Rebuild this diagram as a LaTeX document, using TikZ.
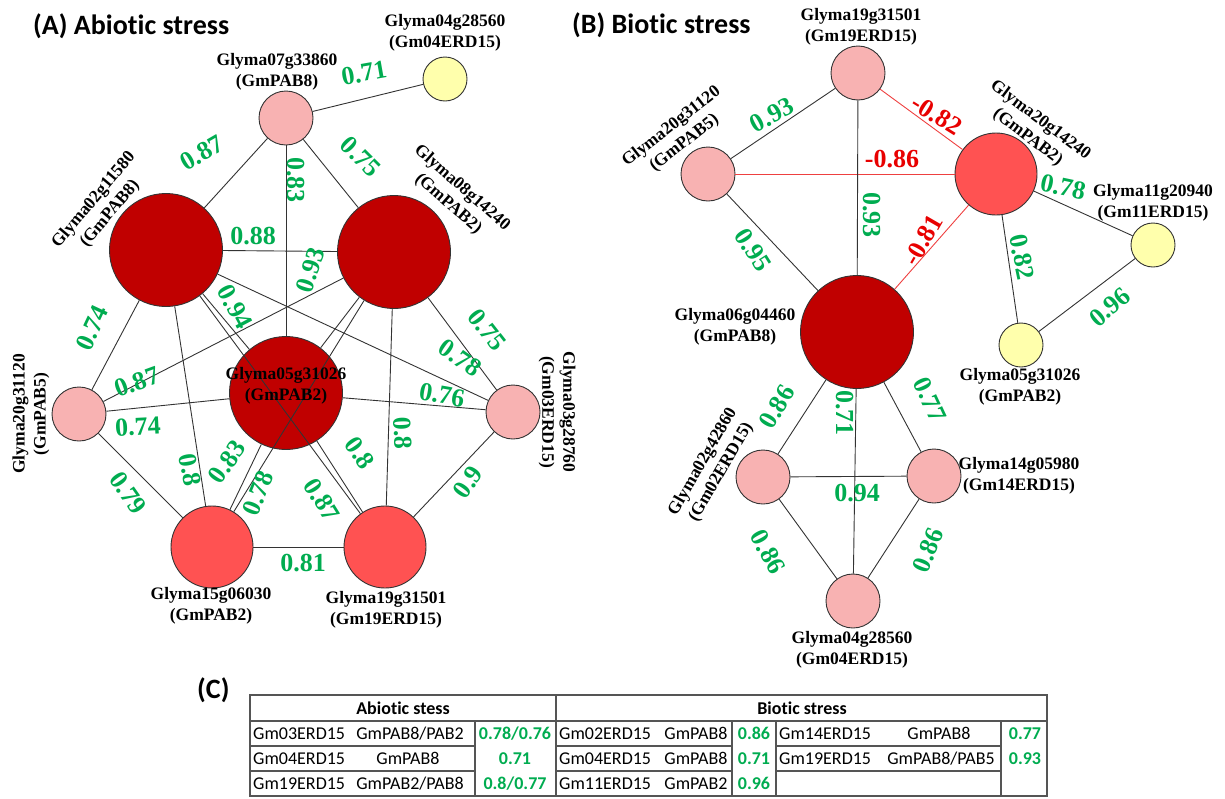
\documentclass[tikz,border=0pt]{standalone}
\usepackage{fontspec}
\setmainfont{Liberation Serif}
\newfontfamily\calib{Carlito}[Ligatures={NoCommon,NoContextual}]
\usepackage{xcolor}
\definecolor{pabdark}{RGB}{192,0,0}
\definecolor{pabred}{RGB}{255,82,82}
\definecolor{pabpink}{RGB}{248,178,178}
\definecolor{erdyellow}{RGB}{255,255,172}
\definecolor{corrgreen}{RGB}{0,172,80}
\definecolor{corrred}{RGB}{232,0,0}
\definecolor{tabgray}{RGB}{85,85,85}
\tikzset{
  gene/.style={circle, draw=black!80, line width=0.9pt, inner sep=0pt},
  pabbig/.style={gene, minimum size=113pt, fill=pabdark},
  pabmid/.style={gene, minimum size=82pt, fill=pabred},
  pabsmall/.style={gene, minimum size=54pt, fill=pabpink},
  erdsmall/.style={gene, minimum size=44pt, fill=erdyellow},
  glab/.style={font=\fontsize{17.5}{21}\selectfont\bfseries, align=center, inner sep=0pt},
  corr/.style={text=corrgreen, font=\fontsize{26}{26}\selectfont\bfseries, inner sep=0pt},
  negcorr/.style={corr, text=corrred},
  corrline/.style={draw=black!80, line width=0.9pt},
  negline/.style={draw=corrred!75, line width=0.9pt},
  panel/.style={font=\calib\fontsize{28}{30}\selectfont\bfseries, anchor=west, inner sep=0pt},
  cell/.style={font=\calib\fontsize{18}{20}\selectfont, inner sep=0pt},
  cellhead/.style={font=\calib\fontsize{18}{20}\selectfont\bfseries, inner sep=0pt},
  cellval/.style={font=\calib\fontsize{18}{20}\selectfont\bfseries, text=corrgreen, inner sep=0pt},
  tabline/.style={draw=tabgray, line width=1.3pt}
}

\begin{document}
\begin{tikzpicture}[x=1pt,y=-1pt]
\useasboundingbox (0,0) rectangle (1225,798);

% (A) abiotic stress network
\node[panel] (titleA) at (33,26) {(A) Abiotic stress};
\node[pabbig] (a02) at (166,250) {};
\node[pabbig] (a08) at (394,252) {};
\node[pabbig] (a05) at (286,393) {};
\node[pabmid] (a15) at (212,547) {};
\node[pabmid] (a19) at (385,547) {};
\node[pabsmall] (a07) at (286,118) {};
\node[pabsmall] (a20) at (79,414) {};
\node[pabsmall] (a03) at (513,412) {};
\node[erdsmall] (a04) at (445,79) {};

\draw[corrline] (a07) -- (a04) node[corr, rotate=10] (ca1) at (364,73) {0.71};
\draw[corrline] (a07) -- (a02) node[corr, rotate=30] (ca2) at (202,153) {0.87};
\draw[corrline] (a07) -- (a05) node[corr, rotate=-90] (ca3) at (296,180) {0.83};
\draw[corrline] (a07) -- (a08) node[corr, rotate=-45] (ca4) at (361,157) {0.75};
\draw[corrline] (a02) -- (a08) node[corr] (ca5) at (253,236) {0.88};
\draw[corrline] (a08) -- (a05) node[corr, rotate=72] (ca6) at (310,270) {0.93};
\draw[corrline] (a02) -- (a05) node[corr, rotate=-62] (ca7) at (235,307) {0.94};
\draw[corrline] (a02) -- (a20) node[corr, rotate=65] (ca8) at (92,328) {0.74};
\draw[corrline] (a08) -- (a03) node[corr, rotate=-52] (ca9) at (487,330) {0.75};
\draw[corrline] (a02) -- (a03) node[corr, rotate=-35] (ca10) at (460,358) {0.78};
\draw[corrline] (a05) -- (a03) node[corr, rotate=-10] (ca11) at (442,395) {0.76};
\draw[corrline] (a20) -- (a08) node[corr, rotate=20] (ca12) at (137,382) {0.87};
\draw[corrline] (a20) -- (a05) node[corr, rotate=3] (ca13) at (138,427) {0.74};
\draw[corrline] (a20) -- (a15) node[corr, rotate=-55] (ca14) at (128,493) {0.79};
\draw[corrline] (a02) -- (a15) node[corr, rotate=-80] (ca15) at (190,470) {0.8};
\draw[corrline] (a05) -- (a15) node[corr, rotate=55] (ca16) at (227,462) {0.83};
\draw[corrline] (a08) -- (a15) node[corr, rotate=68] (ca17) at (258,493) {0.78};
\draw[corrline] (a02) -- (a19) node[corr, rotate=-58] (ca18) at (322,500) {0.87};
\draw[corrline] (a05) -- (a19) node[corr, rotate=-55] (ca19) at (360,453) {0.8};
\draw[corrline] (a08) -- (a19) node[corr, rotate=-88] (ca20) at (403,433) {0.8};
\draw[corrline] (a03) -- (a19) node[corr, rotate=55] (ca21) at (468,482) {0.9};
\draw[corrline] (a15) -- (a19) node[corr] (ca22) at (303,563) {0.81};

\node[glab] (a04t) at (445,33) {Glyma04g28560\\(Gm04ERD15)};
\node[glab] (a07t) at (277,72) {Glyma07g33860\\(GmPAB8)};
\node[glab, rotate=50] (a02t) at (102,207) {Glyma02g11580\\(GmPAB8)};
\node[glab, rotate=-41] (a08t) at (455,196) {Glyma08g14240\\(GmPAB2)};
\node[glab, rotate=90] (a20t) at (31,414) {Glyma20g31120\\(GmPAB5)};
\node[glab, rotate=-90] (a03t) at (557,412) {Glyma03g28760\\(Gm03ERD15)};
\node[glab] (a05t) at (286,386) {Glyma05g31026\\(GmPAB2)};
\node[glab] (a15t) at (211,606) {Glyma15g06030\\(GmPAB2)};
\node[glab] (a19t) at (386,610) {Glyma19g31501\\(Gm19ERD15)};

% (B) biotic stress network
\node[panel] (titleB) at (572,25) {(B) Biotic stress};
\node[pabbig] (b06) at (857,332) {};
\node[pabmid] (b20p) at (996,174) {};
\node[pabsmall] (b19) at (858,73) {};
\node[pabsmall] (b20) at (708,174) {};
\node[pabsmall] (b02) at (763,477) {};
\node[pabsmall] (b14) at (934,476) {};
\node[pabsmall] (b04) at (853,601) {};
\node[erdsmall] (b11) at (1153,245) {};
\node[erdsmall] (b05) at (1021,345) {};

\draw[corrline] (b19) -- (b20) node[corr, rotate=28] (cb1) at (772,115) {0.93};
\draw[negline] (b19) -- (b20p) node[negcorr, rotate=-32] (cb2) at (937,115) {-0.82};
\draw[negline] (b20) -- (b20p) node[negcorr] (cb3) at (892,159) {-0.86};
\draw[corrline] (b19) -- (b06) node[corr, rotate=-90] (cb4) at (872,215) {0.93};
\draw[corrline] (b20) -- (b06) node[corr, rotate=-58] (cb5) at (753,250) {0.95};
\draw[negline] (b20p) -- (b06) node[negcorr, rotate=60] (cb6) at (923,240) {-0.81};
\draw[corrline] (b20p) -- (b11) node[corr, rotate=-12] (cb7) at (1063,187) {0.78};
\draw[corrline] (b20p) -- (b05) node[corr, rotate=-78] (cb8) at (1022,257) {0.82};
\draw[corrline] (b11) -- (b05) node[corr, rotate=40] (cb9) at (1110,307) {0.96};
\draw[corrline] (b06) -- (b02) node[corr, rotate=60] (cb10) at (777,407) {0.86};
\draw[corrline] (b06) -- (b04) node[corr, rotate=-90] (cb11) at (845,413) {0.71};
\draw[corrline] (b06) -- (b14) node[corr, rotate=-65] (cb12) at (930,400) {0.77};
\draw[corrline] (b02) -- (b14) node[corr] (cb13) at (857,493) {0.94};
\draw[corrline] (b02) -- (b04) node[corr, rotate=-62] (cb14) at (768,552) {0.86};
\draw[corrline] (b14) -- (b04) node[corr, rotate=68] (cb15) at (928,550) {0.86};

\node[glab] (b19t) at (861,27) {Glyma19g31501\\(Gm19ERD15)};
\node[glab, rotate=38] (b20t) at (678,135) {Glyma20g31120\\(GmPAB5)};
\node[glab, rotate=-37] (b20pt) at (1034,129) {Glyma20g14240\\(GmPAB2)};
\node[glab] (b11t) at (1153,203) {Glyma11g20940\\(Gm11ERD15)};
\node[glab] (b06t) at (735,327) {Glyma06g04460\\(GmPAB8)};
\node[glab] (b05t) at (1020,387) {Glyma05g31026\\(GmPAB2)};
\node[glab, rotate=60] (b02t) at (712,467) {Glyma02g42860\\(Gm02ERD15)};
\node[glab] (b14t) at (1019,476) {Glyma14g05980\\(Gm14ERD15)};
\node[glab] (b04t) at (852,650) {Glyma04g28560\\(Gm04ERD15)};

% (C) table
\node[panel] (titleC) at (197,690) {(C)};
\draw[tabline] (250,695) rectangle (1047,796);
\draw[tabline] (250,721) -- (1047,721);
\draw[tabline] (556,695) -- (556,796);
\foreach \x in {475,732,776,1001} \draw[tabline] (\x,721) -- (\x,796);
\foreach \y in {746,771} {
  \draw[tabline] (250,\y) -- (475,\y);
  \draw[tabline] (556,\y) -- (732,\y);
  \draw[tabline] (776,\y) -- (1001,\y);
}
\node[cellhead] (hA) at (403,708) {Abiotic stess};
\node[cellhead] (hB) at (802,708) {Biotic stress};

\node[cell, anchor=west] (r1a) at (253,733.5) {Gm03ERD15};
\node[cell] (r1b) at (410,733.5) {GmPAB8/PAB2};
\node[cellval] (r1c) at (515,733.5) {0.78/0.76};
\node[cell, anchor=west] (r2a) at (253,758.5) {Gm04ERD15};
\node[cell] (r2b) at (408,758.5) {GmPAB8};
\node[cellval] (r2c) at (515,758.5) {0.71};
\node[cell, anchor=west] (r3a) at (253,783.5) {Gm19ERD15};
\node[cell] (r3b) at (410,783.5) {GmPAB2/PAB8};
\node[cellval] (r3c) at (515,783.5) {0.8/0.77};

\node[cell, anchor=west] (s1a) at (559,733.5) {Gm02ERD15};
\node[cell] (s1b) at (696,733.5) {GmPAB8};
\node[cellval] (s1c) at (754,733.5) {0.86};
\node[cell, anchor=west] (s2a) at (559,758.5) {Gm04ERD15};
\node[cell] (s2b) at (696,758.5) {GmPAB8};
\node[cellval] (s2c) at (754,758.5) {0.71};
\node[cell, anchor=west] (s3a) at (559,783.5) {Gm11ERD15};
\node[cell] (s3b) at (696,783.5) {GmPAB2};
\node[cellval] (s3c) at (754,783.5) {0.96};

\node[cell, anchor=west] (u1a) at (779,733.5) {Gm14ERD15};
\node[cell] (u1b) at (939,733.5) {GmPAB8};
\node[cellval] (u1c) at (1025,733.5) {0.77};
\node[cell, anchor=west] (u2a) at (779,758.5) {Gm19ERD15};
\node[cell] (u2b) at (941,758.5) {GmPAB8/PAB5};
\node[cellval] (u2c) at (1025,758.5) {0.93};
\end{tikzpicture}
\end{document}
